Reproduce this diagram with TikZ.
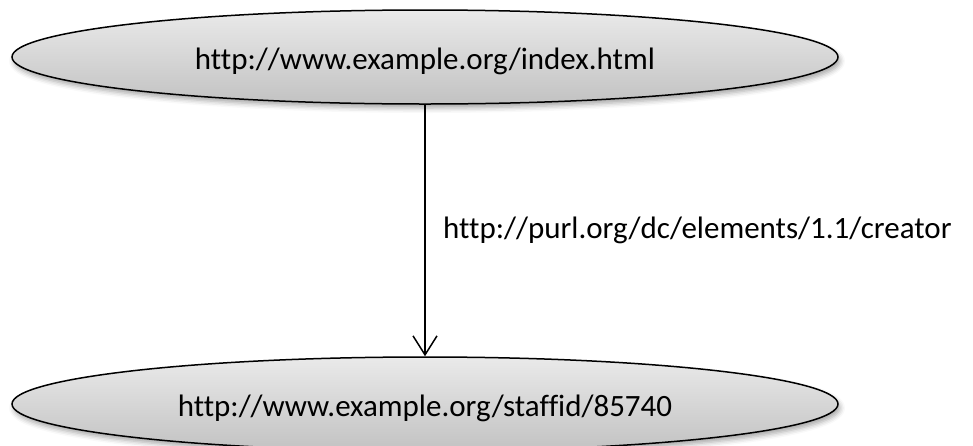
\documentclass[tikz,border=0pt]{standalone}
\usepackage{fontspec}
\setmainfont{Carlito}[Ligatures={NoCommon}]
\usetikzlibrary{shapes.geometric,arrows.meta,shadows.blur}
\begin{document}
\begin{tikzpicture}[x=1pt,y=-1pt,
  resource/.style={ellipse, draw=black, line width=1.5pt,
    minimum width=826pt, minimum height=94pt, inner sep=0pt,
    top color={rgb,255:red,234;green,234;blue,234},
    bottom color={rgb,255:red,194;green,194;blue,194},
    blur shadow={shadow xshift=2pt, shadow yshift=-4pt,
      shadow blur radius=5pt, shadow opacity=35},
    font=\fontsize{31}{37}\selectfont,
    text height=26pt, text depth=2pt},
  property/.style={font=\fontsize{31}{37}\selectfont, inner sep=0pt},
  link/.style={draw=black, line width=1.5pt,
    -{Straight Barb[length=19pt,width=24pt,line width=1.5pt]}}]
\useasboundingbox (0,0) rectangle (973,445);
\clip (0,0) rectangle (973,445);
\node[resource] (page)  at (425,57)  {http://www.example.org/index.html};
\node[resource] (staff) at (425,404) {http://www.example.org/staffid/85740};
\draw[link] (page.south) -- (staff.north);
\node[property, anchor=base west] (pred) at (443,238) {http://purl.org/dc/elements/1.1/creator};
\end{tikzpicture}
\end{document}
